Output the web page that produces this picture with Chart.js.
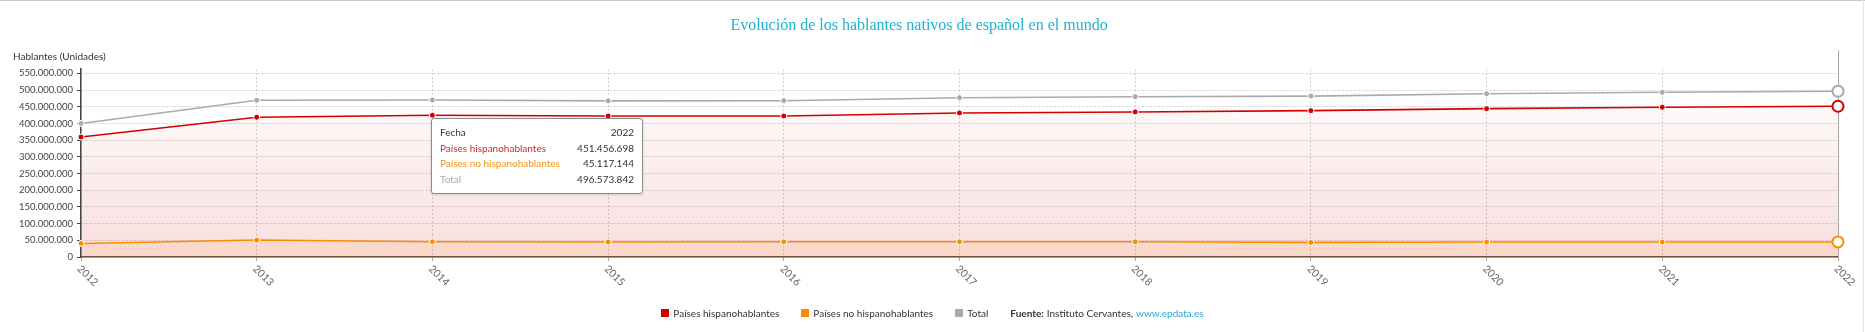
<!DOCTYPE html>
<html lang="es">
<head>
<meta charset="utf-8">
<title>Evolución de los hablantes nativos de español en el mundo</title>
<script src="https://cdn.jsdelivr.net/npm/chart.js@4.4.1/dist/chart.umd.min.js"></script>
<style>
  html, body { margin: 0; padding: 0; background: #fff; }
  #wrap {
    position: relative; width: 1865px; height: 332px; overflow: hidden;
    font-family: Lato, 'Open Sans', sans-serif; color: #333;
  }
  #wrap::before { content: ''; position: absolute; left: 0; right: 0; top: 0; height: 1px; background: #c8c8c8; }
  #wrap::after { content: ''; position: absolute; top: 0; bottom: 0; right: 1px; width: 1px; background: #e2e2e2; }
  #chart { position: absolute; left: 0; top: 0; }
  .axis-title { position: absolute; left: 13px; top: 49px; font-size: 10px; line-height: 14px; }
  .tip {
    position: absolute; left: 431px; top: 118px; width: 212px; box-sizing: border-box;
    background: #fff; border: 1px solid #8c8c8c; border-radius: 3px;
    box-shadow: 0 1px 3px rgba(0,0,0,0.15); padding: 6px 8px 6px 8px; font-size: 10px;
  }
  .tip .row { display: flex; justify-content: space-between; height: 15.5px; line-height: 15.5px; }
  .tip .val { color: #333; }
  .legend {
    position: absolute; left: 0; right: 0; top: 306px; height: 14px;
    display: flex; justify-content: center; align-items: center; font-size: 10px; line-height: 14px;
  }
  .legend .item { display: flex; align-items: center; margin-right: 22px; }
  .legend .sw { width: 8px; height: 8px; margin-right: 4px; }
  .legend b { font-weight: bold; margin-right: 3px; }
  .legend a { color: #2aa8cf; text-decoration: none; margin-left: 3px; }
</style>
</head>
<body>
<div id="wrap">
  <canvas id="chart" width="1865" height="332"></canvas>
  <div class="axis-title">Hablantes (Unidades)</div>
  <div class="tip" id="tip"></div>
  <div class="legend" id="legend"></div>
</div>
<script>
// Hablantes nativos de español (Instituto Cervantes)
const YEARS = ['2012', '2013', '2014', '2015', '2016', '2017', '2018', '2019', '2020', '2021', '2022'];
const HISPANOHABLANTES = [359500000, 418600000, 424600000, 422500000, 422500000, 431500000,
                          434500000, 438300000, 444300000, 448500000, 451456698];
const NO_HISPANOHABLANTES = [40600000, 50800000, 45700000, 45000000, 45700000, 45700000,
                             45700000, 43700000, 44800000, 44800000, 45117144];
const TOTAL = [400100000, 469400000, 470300000, 467500000, 468200000, 477200000,
               480200000, 482000000, 489100000, 493300000, 496573842];
const Y_TICKS = [0, 50000000, 100000000, 150000000, 200000000, 250000000,
                 300000000, 350000000, 400000000, 450000000, 500000000, 550000000];
const Y_MAX = 562500000;
const ACTIVE = YEARS.length - 1;

const RED = '#d40000';
const ORANGE = '#ff8c00';
const GRAY = '#aaaaaa';

const fmt = v => Math.round(v).toString().replace(/\B(?=(\d{3})+(?!\d))/g, '.');

Chart.defaults.font.family = "Lato, 'Open Sans', sans-serif";

function vGradient(rgb, a0, a1) {
  return c => {
    const { ctx, chartArea } = c.chart;
    if (!chartArea) return 'transparent';
    const g = ctx.createLinearGradient(0, chartArea.top, 0, chartArea.bottom);
    g.addColorStop(0, `rgba(${rgb},${a0})`);
    g.addColorStop(1, `rgba(${rgb},${a1})`);
    return g;
  };
}

function series(label, data, color, fill, order) {
  return {
    label, data, order,
    borderColor: color,
    borderWidth: 1.6,
    backgroundColor: fill || 'transparent',
    fill: fill ? 'origin' : false,
    tension: 0,
    clip: false,
    pointRadius: 3,
    pointBorderWidth: 1,
    pointBorderColor: '#fff',
    pointBackgroundColor: color,
    pointHoverRadius: 5.5,
    pointHoverBorderWidth: 2,
    pointHoverBorderColor: color,
    pointHoverBackgroundColor: '#fff',
  };
}

// vertical hover line at the active year
const hoverLine = {
  id: 'hoverLine',
  beforeDatasetsDraw(chart) {
    const { ctx, chartArea, scales } = chart;
    const x = scales.x.getPixelForValue(ACTIVE);
    ctx.save();
    ctx.strokeStyle = '#a8a8a8';
    ctx.lineWidth = 1;
    ctx.beginPath();
    ctx.moveTo(x + 0.5, chartArea.top - 19);
    ctx.lineTo(x + 0.5, chartArea.bottom);
    ctx.stroke();
    ctx.restore();
  }
};

// year labels, rotated downwards to the right
const yearLabels = {
  id: 'yearLabels',
  afterDraw(chart) {
    const { ctx, scales } = chart;
    const xs = scales.x;
    ctx.save();
    ctx.font = "10.5px Lato, 'Open Sans', sans-serif";
    ctx.fillStyle = '#666';
    ctx.textAlign = 'left';
    ctx.textBaseline = 'middle';
    xs.ticks.forEach((t, i) => {
      ctx.save();
      ctx.translate(xs.getPixelForTick(i) - 2, xs.top + 10);
      ctx.rotate(Math.PI / 4);
      ctx.fillText(YEARS[i], 0, 0);
      ctx.restore();
    });
    ctx.restore();
  }
};

const datasets = [
  series('Países hispanohablantes', HISPANOHABLANTES, RED, vGradient('210,0,0', 0, 0.13), 2),
  series('Países no hispanohablantes', NO_HISPANOHABLANTES, ORANGE, 'rgba(255,140,0,0.09)', 1),
  series('Total', TOTAL, GRAY, null, 3),
];

const chart = new Chart(document.getElementById('chart'), {
  type: 'line',
  data: { labels: YEARS, datasets },
  options: {
    responsive: false,
    animation: false,
    events: [],
    devicePixelRatio: 1,
    layout: { padding: { left: 0, right: 27, top: 0, bottom: 0 } },
    plugins: {
      legend: { display: false },
      tooltip: { enabled: false },
      title: {
        display: true,
        text: 'Evolución de los hablantes nativos de español en el mundo',
        color: '#1db3d6',
        font: { family: "'Liberation Serif', 'DejaVu Serif', serif", size: 16, weight: 'normal' },
        padding: { top: 16, bottom: 34 },
      },
    },
    scales: {
      x: {
        offset: false,
        afterFit: s => { s.height = 75; },
        ticks: { display: false },
        grid: { color: '#cfcfcf', tickColor: '#aaa', tickLength: 4, tickBorderDash: [] },
        border: { display: true, color: '#555', width: 1.5, dash: [2, 2] },
      },
      y: {
        min: 0,
        max: Y_MAX,
        afterFit: s => { s.width = 81; },
        afterBuildTicks: s => { s.ticks = Y_TICKS.map(v => ({ value: v })); },
        ticks: {
          color: '#444',
          padding: 4,
          font: { size: 9.5 },
          callback: v => fmt(v),
        },
        grid: { color: '#cfcfcf', tickColor: '#444', tickLength: 4, tickBorderDash: [] },
        border: { display: true, color: '#444', width: 1.5, dash: [2, 2] },
      },
    },
  },
  plugins: [hoverLine, yearLabels],
});

chart.setActiveElements(datasets.map((d, i) => ({ datasetIndex: i, index: ACTIVE })));
chart.update('none');

// tooltip box for the active year
const tipColors = ['#d42a2a', '#f5920f', '#aaaaaa'];
let tipHtml = `<div class="row"><span>Fecha</span><span class="val">${YEARS[ACTIVE]}</span></div>`;
datasets.forEach((d, i) => {
  tipHtml += `<div class="row"><span style="color:${tipColors[i]}">${d.label}</span>` +
             `<span class="val">${fmt(d.data[ACTIVE])}</span></div>`;
});
document.getElementById('tip').innerHTML = tipHtml;

// legend + source
let legendHtml = '';
datasets.forEach(d => {
  legendHtml += `<div class="item"><span class="sw" style="background:${d.borderColor}"></span>${d.label}</div>`;
});
legendHtml += '<div><b>Fuente:</b>Instituto Cervantes,<a href="#">www.epdata.es</a></div>';
document.getElementById('legend').innerHTML = legendHtml;
</script>
</body>
</html>
